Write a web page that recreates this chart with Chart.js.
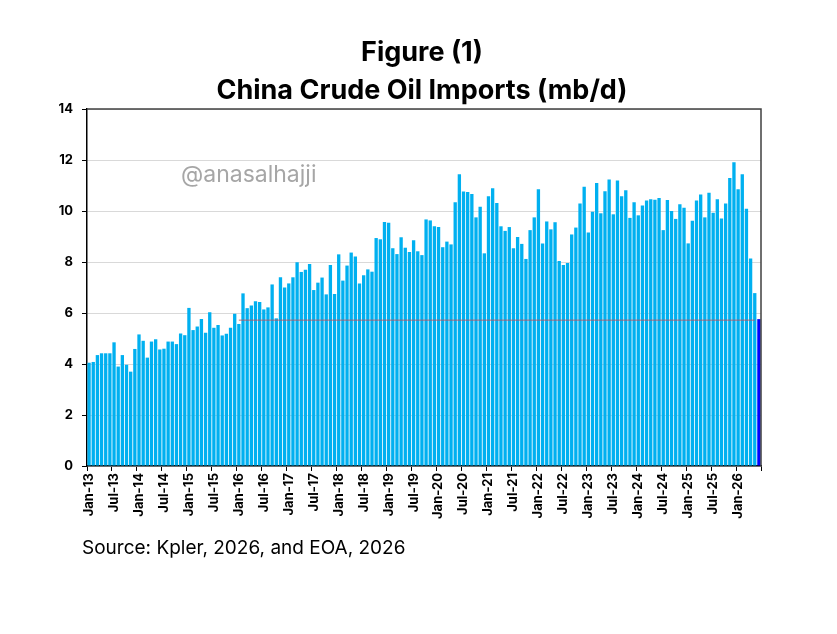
<!DOCTYPE html>
<html>
<head>
<meta charset="utf-8">
<script src="https://cdn.jsdelivr.net/npm/chart.js@4.4.1/dist/chart.umd.min.js"></script>
<style>
  body { margin: 0; background: #fff; }
  .wrap { position: relative; width: 837px; height: 634px; font-family: Inter, "Noto Sans", sans-serif; }
  canvas { position: absolute; left: 0; top: 0; }
  .title { position: absolute; left: 0; width: 844px; text-align: center; font-weight: 700; font-size: 27px; color: #000; line-height: 1; }
  .mark { position: absolute; left: 181px; top: 163px; font-size: 23px; color: #a6a6a6; line-height: 1; }
  .source { position: absolute; left: 82px; top: 538px; font-size: 19px; color: #000; line-height: 1; }
</style>
</head>
<body>
<div class="wrap">
  <canvas id="chart" width="837" height="634"></canvas>
  <div class="title" style="top:38px">Figure (1)</div>
  <div class="title" style="top:76px">China Crude Oil Imports (mb/d)</div>
  <div class="mark">@anasalhajji</div>
  <div class="source">Source: Kpler, 2026, and EOA, 2026</div>
</div>
<script>
// monthly categories Jan-13 .. Jun-26
const monthNames = ['Jan', 'Feb', 'Mar', 'Apr', 'May', 'Jun', 'Jul', 'Aug', 'Sep', 'Oct', 'Nov', 'Dec'];
const months = [];
for (let y = 13; y <= 26; y++) {
  for (let m = 0; m < 12; m++) {
    if (y === 26 && m > 5) break;
    months.push(monthNames[m] + '-' + y);
  }
}

// crude imports, mb/d
const imports = [
  4.05, 4.08, 4.35, 4.42, 4.42, 4.42, 4.85, 3.90, 4.35, 3.97, 3.70, 4.59,
  5.16, 4.91, 4.25, 4.88, 4.97, 4.57, 4.60, 4.88, 4.88, 4.78, 5.20, 5.13,
  6.20, 5.33, 5.47, 5.76, 5.23, 6.03, 5.42, 5.53, 5.12, 5.19, 5.42, 5.97,
  5.57, 6.77, 6.19, 6.29, 6.46, 6.43, 6.14, 6.22, 7.12, 5.79, 7.40, 7.00,
  7.16, 7.40, 7.99, 7.61, 7.70, 7.92, 6.90, 7.19, 7.39, 6.73, 7.88, 6.75,
  8.30, 7.27, 7.86, 8.37, 8.22, 7.16, 7.48, 7.71, 7.62, 8.94, 8.89, 9.57,
  9.54, 8.54, 8.31, 8.97, 8.56, 8.39, 8.85, 8.42, 8.27, 9.67, 9.63, 9.40,
  9.37, 8.58, 8.80, 8.69, 10.34, 11.44, 10.76, 10.75, 10.67, 9.75, 10.17, 8.34,
  10.58, 10.89, 10.31, 9.40, 9.22, 9.37, 8.54, 8.98, 8.71, 8.12, 9.25, 9.75,
  10.85, 8.73, 9.59, 9.28, 9.56, 8.04, 7.88, 7.96, 9.08, 9.35, 10.29, 10.95,
  9.16, 9.97, 11.10, 9.91, 10.77, 11.24, 9.87, 11.20, 10.58, 10.81, 9.73, 10.34,
  9.83, 10.22, 10.41, 10.46, 10.44, 10.51, 9.25, 10.43, 10.00, 9.69, 10.26, 10.13,
  8.73, 9.62, 10.41, 10.65, 9.75, 10.72, 9.93, 10.46, 9.71, 10.29, 11.29, 11.91,
  10.85, 11.44, 10.09, 8.14, 6.78, 5.76
];

// thin reference line across the later bars
const refLineValue = 5.72;
const refLineFrom = 'Jan-16';
const refLineTo = 'May-26';

const yTicks = [0, 2, 4, 6, 8, 10, 12, 14];

// top/right frame of the plot area
const framePlugin = {
  id: 'frame',
  afterDraw(chart) {
    const { ctx, chartArea } = chart;
    ctx.save();
    ctx.strokeStyle = '#404040';
    ctx.lineWidth = 1.5;
    ctx.beginPath();
    ctx.moveTo(chartArea.left, chartArea.top);
    ctx.lineTo(chartArea.right, chartArea.top);
    ctx.lineTo(chartArea.right, chartArea.bottom);
    ctx.stroke();
    ctx.restore();
  }
};

const lastIdx = imports.length - 1;

new Chart(document.getElementById('chart'), {
  data: {
    labels: months,
    datasets: [
      {
        type: 'line',
        data: [{ x: refLineFrom, y: refLineValue }, { x: refLineTo, y: refLineValue }],
        borderColor: 'rgba(190, 80, 90, 0.85)',
        borderWidth: 1,
        pointRadius: 0,
        order: 0
      },
      {
        type: 'bar',
        data: imports,
        backgroundColor: (c) => c.dataIndex === lastIdx ? '#0000FF' : '#00B0F0',
        barPercentage: 0.8,
        categoryPercentage: 1.0,
        order: 1
      }
    ]
  },
  options: {
    responsive: false,
    animation: false,
    layout: { padding: { top: 109, right: 76, left: 0, bottom: 108 } },
    plugins: {
      legend: { display: false },
      tooltip: { enabled: false }
    },
    scales: {
      x: {
        type: 'category',
        afterFit(scale) { scale.height = 60; },
        grid: {
          offset: true,
          drawOnChartArea: false,
          tickLength: 5,
          color: (c) => (c.tick === undefined || c.index % 6 === 0) ? '#000' : 'rgba(0,0,0,0)'
        },
        border: { display: true, color: '#000', width: 1.5 },
        ticks: {
          autoSkip: false,
          minRotation: 90,
          maxRotation: 90,
          padding: 2,
          color: '#000',
          font: { family: 'Inter', weight: 'bold', size: 13 },
          callback: (v, i) => i % 6 === 0 ? months[i] : ''
        }
      },
      y: {
        min: 0,
        max: 14,
        afterFit(scale) { scale.width = 87; },
        afterBuildTicks(scale) { scale.ticks = yTicks.map(v => ({ value: v })); },
        grid: { color: '#d9d9d9', tickColor: '#000', tickLength: 5 },
        border: { display: true, color: '#000', width: 1.5 },
        ticks: {
          padding: 9,
          color: '#000',
          font: { family: 'Inter', weight: 'bold', size: 13 }
        }
      }
    }
  },
  plugins: [framePlugin]
});
</script>
</body>
</html>
